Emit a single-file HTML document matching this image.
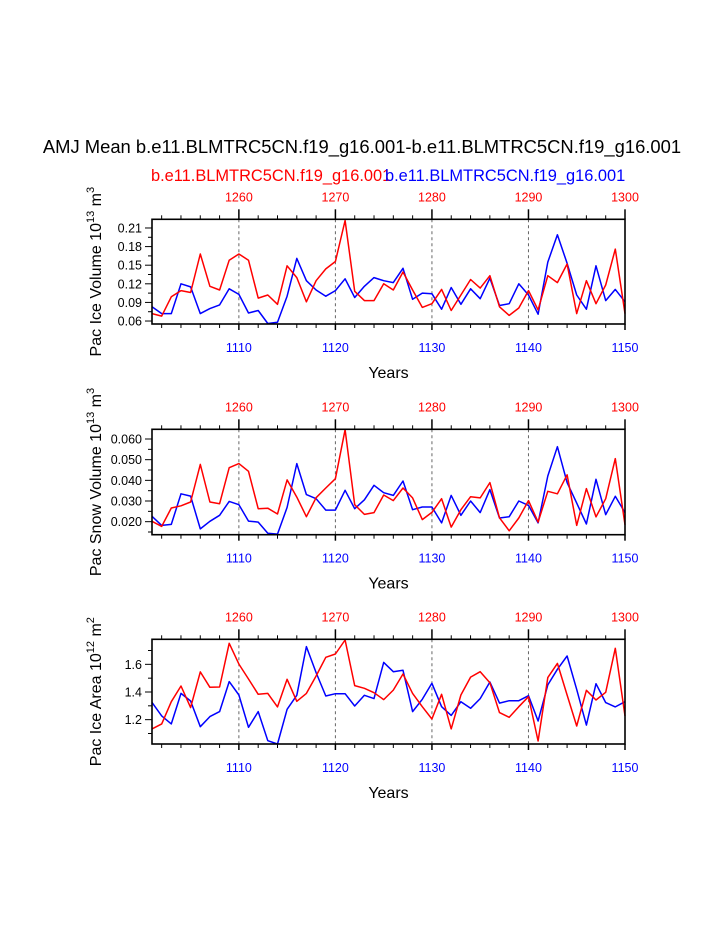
<!DOCTYPE html>
<html><head><meta charset="utf-8"><style>
body{margin:0;background:#fff;}
svg{display:block;font-family:"Liberation Sans",sans-serif;}
</style></head><body>
<svg id="c" width="723" height="935" xmlns="http://www.w3.org/2000/svg">
<text x="362" y="153" font-size="18.4" text-anchor="middle">AMJ Mean b.e11.BLMTRC5CN.f19_g16.001-b.e11.BLMTRC5CN.f19_g16.001</text>
<text x="151" y="181" font-size="16.4" fill="#f00">b.e11.BLMTRC5CN.f19_g16.001</text>
<text x="385" y="181" font-size="16.4" fill="#00f">b.e11.BLMTRC5CN.f19_g16.001</text>
</svg>
<script>
const years = Array.from({length:50},(_,i)=>1101+i);
const iceVolRed = [0.072,0.068,0.099,0.109,0.106,0.168,0.116,0.110,0.158,0.168,0.158,0.097,0.102,0.087,0.149,0.130,0.091,0.125,0.144,0.156,0.222,0.108,0.093,0.093,0.120,0.110,0.139,0.110,0.082,0.088,0.111,0.077,0.102,0.127,0.113,0.133,0.083,0.069,0.081,0.109,0.078,0.133,0.122,0.152,0.072,0.125,0.088,0.118,0.176,0.072];
const iceVolBlue = [0.083,0.072,0.072,0.120,0.115,0.072,0.080,0.086,0.112,0.103,0.073,0.077,0.056,0.058,0.100,0.161,0.125,0.110,0.100,0.109,0.128,0.098,0.116,0.130,0.125,0.122,0.145,0.095,0.105,0.104,0.079,0.114,0.087,0.112,0.096,0.129,0.085,0.088,0.120,0.102,0.071,0.155,0.199,0.153,0.102,0.079,0.149,0.093,0.111,0.091];
const snowVolRed = [0.0202,0.0177,0.0266,0.0277,0.0295,0.0477,0.0295,0.0287,0.0461,0.0481,0.0444,0.0263,0.0265,0.0237,0.0402,0.0319,0.0224,0.0316,0.0363,0.0408,0.0645,0.0282,0.0235,0.0244,0.0329,0.0302,0.0363,0.0315,0.0210,0.0245,0.0311,0.0174,0.0258,0.0321,0.0315,0.0389,0.0219,0.0156,0.0218,0.0302,0.0198,0.0347,0.0335,0.0427,0.0182,0.0360,0.0223,0.0311,0.0505,0.0185];
const snowVolBlue = [0.0226,0.0182,0.0187,0.0335,0.0324,0.0165,0.0202,0.0231,0.0298,0.0282,0.0203,0.0198,0.0144,0.0140,0.0269,0.0481,0.0331,0.0311,0.0256,0.0256,0.0352,0.0263,0.0306,0.0376,0.0340,0.0327,0.0397,0.0258,0.0271,0.0271,0.0194,0.0327,0.0231,0.0300,0.0244,0.0355,0.0218,0.0224,0.0300,0.0279,0.0194,0.0421,0.0563,0.0389,0.0290,0.0189,0.0405,0.0234,0.0323,0.0244];
const areaRed = [1.133,1.169,1.330,1.443,1.287,1.545,1.434,1.436,1.752,1.602,1.494,1.383,1.390,1.292,1.492,1.333,1.390,1.516,1.651,1.675,1.776,1.446,1.427,1.395,1.345,1.414,1.530,1.390,1.294,1.205,1.383,1.133,1.378,1.508,1.547,1.467,1.251,1.217,1.294,1.366,1.046,1.504,1.607,1.378,1.154,1.412,1.342,1.398,1.716,1.227];
const areaBlue = [1.325,1.227,1.169,1.390,1.335,1.149,1.222,1.258,1.475,1.378,1.145,1.258,1.048,1.024,1.275,1.376,1.728,1.540,1.371,1.388,1.388,1.299,1.376,1.352,1.614,1.547,1.557,1.258,1.347,1.463,1.294,1.231,1.330,1.282,1.352,1.472,1.320,1.337,1.337,1.373,1.190,1.451,1.564,1.660,1.419,1.161,1.460,1.323,1.292,1.330];
const xTicks = [1110,1120,1130,1140,1150];
const topTicks = [1260,1270,1280,1290,1300];
const iceVolTicks = [0.06,0.09,0.12,0.15,0.18,0.21];
const snowVolTicks = [0.020,0.030,0.040,0.050,0.060];
const areaTicks = [1.2,1.4,1.6];

const svg=document.getElementById('c');
const NS='http://www.w3.org/2000/svg';
function mk(tag,attrs,parent){const e=document.createElementNS(NS,tag);for(const k in attrs)e.setAttribute(k,attrs[k]);(parent||svg).appendChild(e);return e;}
const L=152,R=625;
function panel(name,top,bot,ymin,ymax,yticks,ydec,minorStep,red,blue,ylabel,exp,unit){
  const g=mk('g',{});
  
  
  const xs=v=>L+(v-1101)/(1150-1101)*(R-L);
  const ys=v=>bot-(v-ymin)/(ymax-ymin)*(bot-top);
  xTicks.slice(0,4).forEach(t=>{const l=mk('line',{x1:xs(t),x2:xs(t),y1:top,y2:bot,stroke:'#666','stroke-dasharray':'3,3','stroke-width':1},g);
    
    });
  for(let yv=1102;yv<=1150;yv+=2){const x=xs(yv);const maj=(yv%10===0);
    mk('line',{x1:x,x2:x,y1:bot,y2:bot+(maj?6:4),stroke:'#000','stroke-width':maj?1.5:1},g);
    mk('line',{x1:x,x2:x,y1:top,y2:top-(maj?10:4),stroke:'#000','stroke-width':maj?1.5:1},g);}
  xTicks.forEach(t=>{const e=mk('text',{x:xs(t),y:bot+28,'font-size':12.5,fill:'#00f','text-anchor':'middle'},g);e.textContent=t;
    
    });
  topTicks.forEach((t,i)=>{const e=mk('text',{x:xs(xTicks[i]),y:top-18,'font-size':12.5,fill:'#f00','text-anchor':'middle'},g);e.textContent=t;
    
    });
  for(let v=yticks[0]-minorStep*Math.ceil((yticks[0]-ymin)/minorStep-1e-9);v<=ymax+1e-9;v+=minorStep){const y=ys(v);if(y<top-0.5||y>bot+0.5)continue;
    const maj=yticks.some(t=>Math.abs(t-v)<1e-6);
    mk('line',{x1:L,x2:L-(maj?7:4),y1:y,y2:y,stroke:'#000','stroke-width':1},g);}
  yticks.forEach(t=>{const e=mk('text',{x:L-10,y:ys(t)+4.5,'font-size':12.5,'text-anchor':'end'},g);e.textContent=t.toFixed(ydec);
    
    });
  const mkLine=(arr,col,nm)=>{const p=mk('polyline',{points:arr.map((v,i)=>xs(years[i]).toFixed(1)+','+ys(v).toFixed(1)).join(' '),fill:'none',stroke:col,'stroke-width':1.5,'stroke-linejoin':'round'},g);
    
    };
  mkLine(blue,'#00f',name+'-blue-series');
  mkLine(red,'#f00',name+'-red-series');
  mk('rect',{x:L,y:top,width:R-L,height:bot-top,fill:'none',stroke:'#000','stroke-width':1.6},g);
  const cx=L-51;
  const yt=mk('text',{x:cx,y:(top+bot)/2,'font-size':16,'text-anchor':'middle',transform:`rotate(-90 ${cx} ${(top+bot)/2})`},g);
  yt.innerHTML=ylabel+' 10<tspan font-size="11" dy="-7">'+exp+'</tspan><tspan dy="7"> '+unit+'</tspan><tspan font-size="11" dy="-7">'+(exp==='12'?'2':'3')+'</tspan>';
  
  
  const xt=mk('text',{x:(L+R)/2,y:bot+54,'font-size':16,'text-anchor':'middle'},g);xt.textContent='Years';
  
  
}
panel('ice-volume',219.3,324,0.0552,0.224,iceVolTicks,2,0.015,iceVolRed,iceVolBlue,'Pac Ice Volume','13','m');
panel('snow-volume',429.3,534.7,0.0137,0.0647,snowVolTicks,3,0.005,snowVolRed,snowVolBlue,'Pac Snow Volume','13','m');
panel('ice-area',639.3,744,1.024,1.781,areaTicks,1,0.1,areaRed,areaBlue,'Pac Ice Area','12','m');
</script>
</body></html>
